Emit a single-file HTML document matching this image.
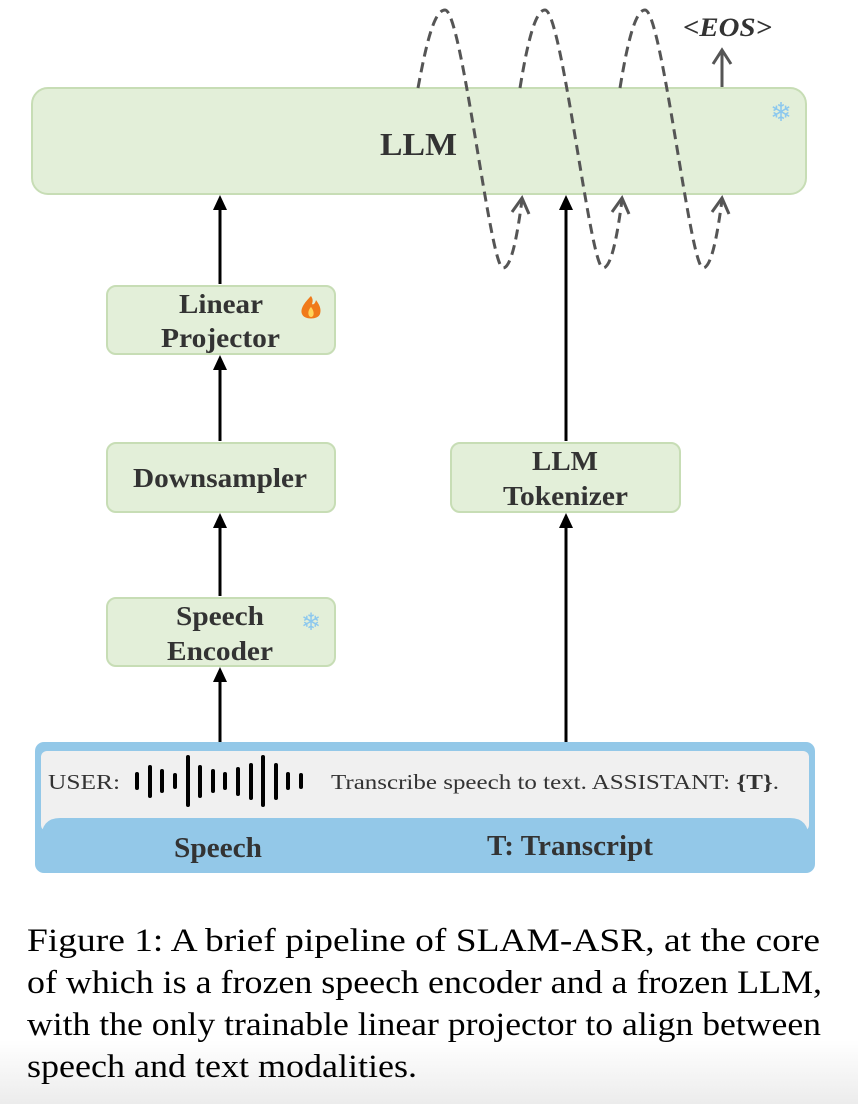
<!DOCTYPE html>
<html><head><meta charset="utf-8"><style>
html,body{margin:0;padding:0;background:#fff;}
svg{display:block;}
</style></head><body>
<svg width="858" height="1104" viewBox="0 0 858 1104" xmlns="http://www.w3.org/2000/svg">
<defs>
<linearGradient id="fade" x1="0" y1="0" x2="0" y2="1"><stop offset="0" stop-color="#fff"/><stop offset="1" stop-color="#ececec"/></linearGradient>
</defs>
<rect x="0" y="1040" width="858" height="64" fill="url(#fade)"/>
<g font-family="Liberation Serif, serif">
<rect x="32" y="88" width="774" height="106" rx="16" fill="#e3efd9" stroke="#c7ddb5" stroke-width="2"/>
<text x="380" y="155" font-size="32" font-weight="bold" fill="#333" textLength="77" lengthAdjust="spacingAndGlyphs">LLM</text>
<text x="781" y="121" font-size="26" fill="#8cc8ee" text-anchor="middle">❄</text>

<rect x="107" y="286" width="228" height="68" rx="9" fill="#e3efd9" stroke="#c7ddb5" stroke-width="2"/>
<text x="179" y="313" font-size="27" font-weight="bold" fill="#333" textLength="84" lengthAdjust="spacingAndGlyphs">Linear</text>
<text x="161" y="347" font-size="27" font-weight="bold" fill="#333" textLength="119" lengthAdjust="spacingAndGlyphs">Projector</text>
<path d="M311,296 C304,303 300,309 302,314 C304,320 318,320 320,314 C322,308 318,303 316,300 C315,304 313,305 312,304 C313,301 313,299 311,296 Z" fill="#f07a1a"/>
<path d="M311,307 C307,311 308,317 311,317 C314,317 315,312 311,307 Z" fill="#ffd35a"/>

<rect x="107" y="443" width="228" height="69" rx="9" fill="#e3efd9" stroke="#c7ddb5" stroke-width="2"/>
<text x="133" y="487" font-size="27" font-weight="bold" fill="#333" textLength="174" lengthAdjust="spacingAndGlyphs">Downsampler</text>

<rect x="107" y="598" width="228" height="68" rx="9" fill="#e3efd9" stroke="#c7ddb5" stroke-width="2"/>
<text x="176" y="625" font-size="27" font-weight="bold" fill="#333" textLength="88" lengthAdjust="spacingAndGlyphs">Speech</text>
<text x="167" y="660" font-size="27" font-weight="bold" fill="#333" textLength="106" lengthAdjust="spacingAndGlyphs">Encoder</text>
<text x="311" y="630" font-size="24" fill="#8cc8ee" text-anchor="middle">❄</text>

<rect x="451" y="443" width="229" height="69" rx="9" fill="#e3efd9" stroke="#c7ddb5" stroke-width="2"/>
<text x="532" y="470" font-size="27" font-weight="bold" fill="#333" textLength="66" lengthAdjust="spacingAndGlyphs">LLM</text>
<text x="503" y="505" font-size="27" font-weight="bold" fill="#333" textLength="125" lengthAdjust="spacingAndGlyphs">Tokenizer</text>

<g stroke="#000" stroke-width="3">
<line x1="220" y1="748" x2="220" y2="680"/>
<line x1="220" y1="596" x2="220" y2="526"/>
<line x1="220" y1="441" x2="220" y2="368"/>
<line x1="220" y1="284" x2="220" y2="208"/>
<line x1="566" y1="750" x2="566" y2="526"/>
<line x1="566" y1="441" x2="566" y2="208"/>
</g>
<g fill="#000">
<path d="M213,682 L220,667 L227,682 Z"/>
<path d="M213,528 L220,513 L227,528 Z"/>
<path d="M213,370 L220,355 L227,370 Z"/>
<path d="M213,210 L220,195 L227,210 Z"/>
<path d="M559,528 L566,513 L573,528 Z"/>
<path d="M559,210 L566,195 L573,210 Z"/>
</g>

<g fill="none" stroke="#555" stroke-width="3" stroke-dasharray="10,6">
<path d="M418,88 C426,45 434,10 445,10 C462,10 490,268 503,268 C512,268 518,230 522,200"/>
<path d="M520,88 C527,45 535,10 545,10 C562,10 590,268 603,268 C612,268 618,230 622,200"/>
<path d="M620,88 C627,45 635,10 645,10 C662,10 690,268 703,268 C712,268 718,230 722,200"/>
</g>
<g fill="none" stroke="#555" stroke-width="3">
<path d="M512,212 L522,198 L529,214"/>
<path d="M612,212 L622,198 L629,214"/>
<path d="M712,212 L722,198 L729,214"/>
<line x1="722" y1="87" x2="722" y2="50"/>
<path d="M713,64 L722,50 L731,64"/>
</g>
<text x="683" y="36" font-size="26" font-weight="bold" font-style="italic" fill="#333" textLength="89" lengthAdjust="spacingAndGlyphs">&lt;EOS&gt;</text>

<rect x="35" y="742" width="780" height="131" rx="9" fill="#93c8e8"/>
<rect x="41" y="751" width="768" height="80" rx="6" fill="#f0f0f0"/>
<path d="M41,840 Q41,818 60,818 L790,818 Q809,818 809,840 L809,868 L41,868 Z" fill="#93c8e8"/>
<text x="48" y="789" font-size="21" fill="#333" textLength="72" lengthAdjust="spacingAndGlyphs">USER:</text>
<g stroke="#000" stroke-width="4" stroke-linecap="round">
<line x1="137" y1="774" x2="137" y2="788"/>
<line x1="150" y1="767" x2="150" y2="796"/>
<line x1="162" y1="771" x2="162" y2="791"/>
<line x1="175" y1="775" x2="175" y2="787"/>
<line x1="188" y1="757" x2="188" y2="805"/>
<line x1="200" y1="767" x2="200" y2="796"/>
<line x1="213" y1="771" x2="213" y2="791"/>
<line x1="225" y1="774" x2="225" y2="788"/>
<line x1="238" y1="769" x2="238" y2="794"/>
<line x1="251" y1="765" x2="251" y2="798"/>
<line x1="263" y1="757" x2="263" y2="805"/>
<line x1="276" y1="765" x2="276" y2="798"/>
<line x1="288" y1="774" x2="288" y2="788"/>
<line x1="301" y1="775" x2="301" y2="787"/>
</g>
<text x="331" y="789" font-size="21" fill="#333" textLength="448" lengthAdjust="spacingAndGlyphs">Transcribe speech to text. ASSISTANT: <tspan font-weight="bold">{T}</tspan>.</text>
<text x="174" y="857" font-size="28" font-weight="bold" fill="#333" textLength="88" lengthAdjust="spacingAndGlyphs">Speech</text>
<text x="487" y="855" font-size="28" font-weight="bold" fill="#333" textLength="166" lengthAdjust="spacingAndGlyphs">T: Transcript</text>

<g font-size="33" fill="#000">
<text x="27" y="951" textLength="793" lengthAdjust="spacingAndGlyphs">Figure 1: A brief pipeline of SLAM-ASR, at the core</text>
<text x="27" y="993" textLength="795" lengthAdjust="spacingAndGlyphs">of which is a frozen speech encoder and a frozen LLM,</text>
<text x="27" y="1035" textLength="794" lengthAdjust="spacingAndGlyphs">with the only trainable linear projector to align between</text>
<text x="27" y="1077" textLength="390" lengthAdjust="spacingAndGlyphs">speech and text modalities.</text>
</g>
</g>
</svg>
</body></html>
